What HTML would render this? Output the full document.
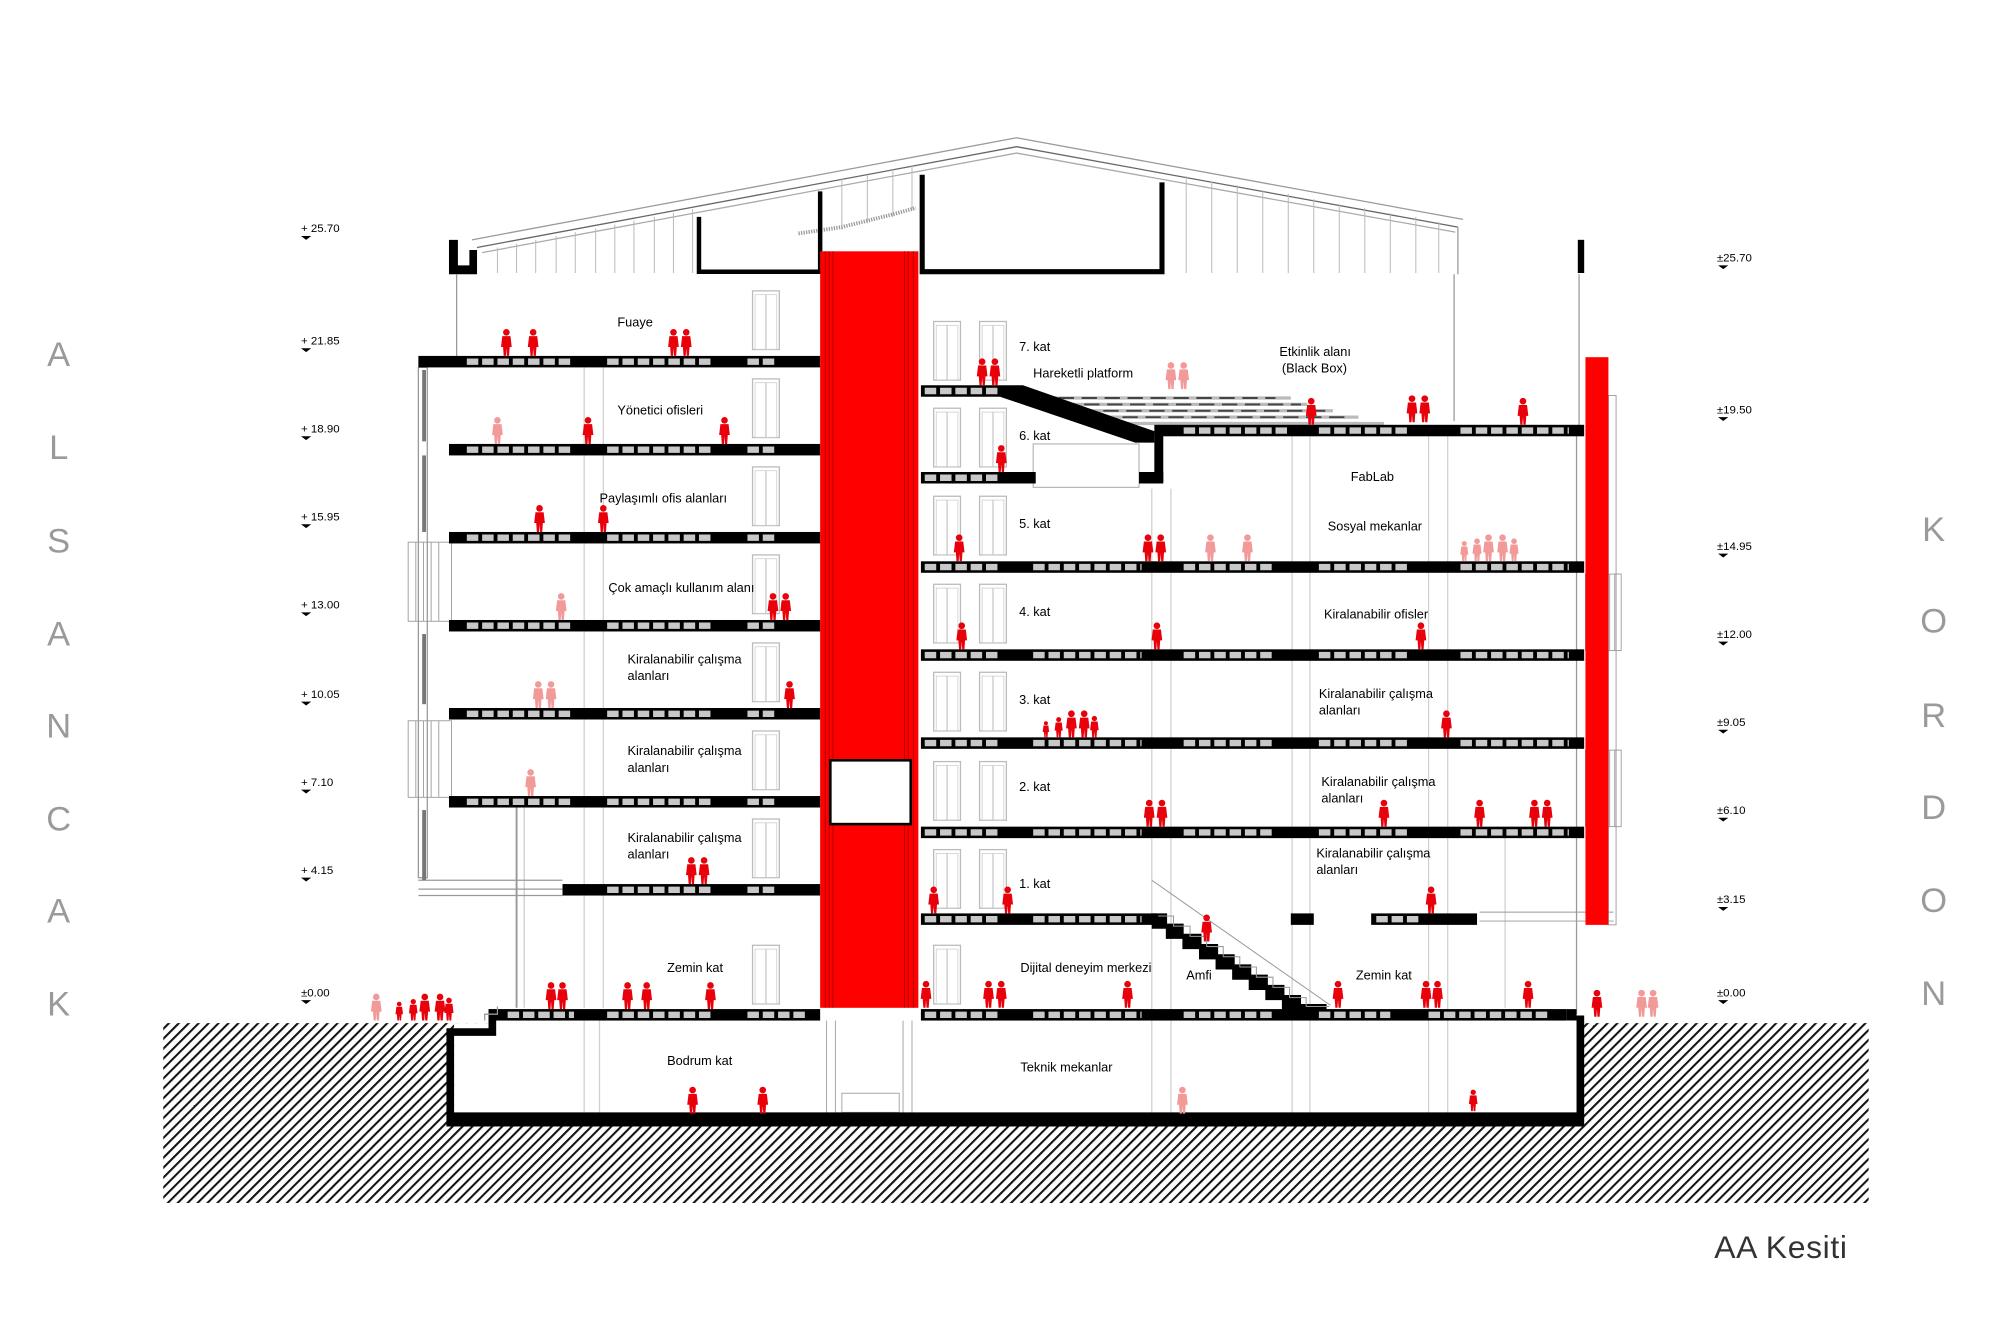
<!DOCTYPE html>
<html><head><meta charset="utf-8"><style>
html,body{margin:0;padding:0;background:#fff;}
svg{display:block;}
text{font-family:"Liberation Sans",sans-serif;}
.l{font-size:10px;fill:#000;}
.e{font-size:9px;fill:#000;}
.big{font-size:27px;fill:#9a9a9a;text-anchor:middle;}
</style></head><body>
<svg width="2000" height="1328" viewBox="0 0 1568 1041" preserveAspectRatio="none" xmlns="http://www.w3.org/2000/svg">
<defs>
<pattern id="h" width="5.5" height="5.5" patternUnits="userSpaceOnUse" patternTransform="rotate(45)">
<rect width="5.5" height="5.5" fill="#fff"/><rect width="1.6" height="5.5" fill="#111"/>
</pattern>
<g id="p"><circle cx="0" cy="-18.5" r="2.6"/><path d="M-3.2,-15.5 L3.2,-15.5 L4.2,-7 L2.6,-7 L2.1,0 L0.4,0 L0,-6 L-0.4,0 L-2.1,0 L-2.6,-7 L-4.2,-7 Z"/></g>
<g id="d"><rect x="0" y="0" width="21" height="46" fill="none" stroke="#bbb" stroke-width="1"/><line x1="10.5" y1="3" x2="10.5" y2="46" stroke="#bbb" stroke-width="0.8"/><rect x="2" y="3" width="17" height="43" fill="none" stroke="#ccc" stroke-width="0.6"/></g>
</defs>

<rect x="128" y="802" width="1337" height="141" fill="url(#h)"/>
<rect x="356" y="802" width="881" height="72" fill="#fff"/>
<rect x="383" y="797" width="850" height="8" fill="#fff"/>

<g fill="none" stroke="#999" stroke-width="1">
<polyline points="370,188 797,108 1147,172"/>
<polyline points="374,194 797,115 1143,178" stroke="#666"/>
<polyline points="378,198 797,120 1141,182" stroke="#aaa"/>
<line x1="1143" y1="178" x2="1143" y2="215"/>
</g>
<g stroke="#bbb" stroke-width="0.8">
<line x1="390" y1="194" x2="390" y2="214"/><line x1="405" y1="191" x2="405" y2="214"/><line x1="420" y1="188" x2="420" y2="214"/><line x1="436" y1="185" x2="436" y2="214"/><line x1="451" y1="182" x2="451" y2="214"/><line x1="467" y1="179" x2="467" y2="214"/><line x1="482" y1="176" x2="482" y2="214"/><line x1="497" y1="173" x2="497" y2="214"/><line x1="513" y1="170" x2="513" y2="214"/><line x1="528" y1="167" x2="528" y2="214"/><line x1="543" y1="164" x2="543" y2="214"/>
<line x1="660" y1="140" x2="660" y2="180"/><line x1="680" y1="137" x2="680" y2="175"/><line x1="700" y1="133" x2="700" y2="170"/><line x1="715" y1="130" x2="715" y2="165"/>
<line x1="930" y1="138" x2="930" y2="214"/><line x1="950" y1="142" x2="950" y2="214"/><line x1="970" y1="145" x2="970" y2="214"/><line x1="990" y1="149" x2="990" y2="214"/><line x1="1010" y1="152" x2="1010" y2="214"/><line x1="1030" y1="156" x2="1030" y2="214"/><line x1="1050" y1="160" x2="1050" y2="214"/><line x1="1070" y1="163" x2="1070" y2="214"/><line x1="1090" y1="167" x2="1090" y2="214"/><line x1="1110" y1="170" x2="1110" y2="214"/><line x1="1128" y1="174" x2="1128" y2="214"/>
</g>
<polyline points="626,183 660,178 680,173 700,168 718,163" fill="none" stroke="#999" stroke-width="3" stroke-dasharray="1 1"/>
<path d="M352,188 H359 V208 H368 V196 H374 V215 H352 Z" fill="#000"/>
<path d="M548,170 V213 H643 V150" fill="none" stroke="#000" stroke-width="3.5"/>
<path d="M723,137 V213 H911 V143" fill="none" stroke="#000" stroke-width="4"/>
<rect x="1237" y="188" width="5" height="26" fill="#000"/>

<g stroke="#999" stroke-width="1">
<line x1="358" y1="215" x2="358" y2="280"/>
<line x1="1140" y1="215" x2="1140" y2="330"/>
<line x1="1238" y1="215" x2="1238" y2="335"/>
<line x1="1236" y1="340" x2="1236" y2="795"/>
<line x1="405" y1="630" x2="405" y2="790" stroke-width="1.5"/>
<line x1="411" y1="630" x2="411" y2="790" stroke="#ccc"/>
</g>
<g stroke="#d0d0d0" stroke-width="1">
<line x1="458" y1="283" x2="458" y2="790"/><line x1="473" y1="283" x2="473" y2="790"/>
<line x1="903" y1="383" x2="903" y2="880"/><line x1="918" y1="383" x2="918" y2="880"/>
<line x1="1013" y1="340" x2="1013" y2="880"/><line x1="1027" y1="340" x2="1027" y2="880"/>
<line x1="1120" y1="340" x2="1120" y2="880"/><line x1="1135" y1="340" x2="1135" y2="880"/>
<line x1="458" y1="800" x2="458" y2="872"/><line x1="470" y1="800" x2="470" y2="872"/>
<line x1="1180" y1="655" x2="1180" y2="790"/>
</g>
<g fill="none" stroke="#999" stroke-width="1">
<rect x="328" y="288" width="7" height="400"/>
<line x1="328" y1="690" x2="441" y2="690"/><line x1="328" y1="697" x2="441" y2="697"/>
<line x1="328" y1="702" x2="441" y2="702"/>
</g>
<rect x="331" y="290" width="3" height="56" fill="#777"/>
<rect x="331" y="357" width="3" height="60" fill="#777"/>
<rect x="331" y="497" width="3" height="55" fill="#777"/>
<rect x="331" y="635" width="3" height="55" fill="#777"/>
<g fill="none" stroke="#999" stroke-width="0.7">
<rect x="320" y="425" width="34" height="62"/><line x1="326" y1="425" x2="326" y2="487"/><line x1="332" y1="425" x2="332" y2="487"/><line x1="338" y1="425" x2="338" y2="487"/><line x1="344" y1="425" x2="344" y2="487"/>
<rect x="320" y="565" width="34" height="60"/><line x1="326" y1="565" x2="326" y2="625"/><line x1="332" y1="565" x2="332" y2="625"/><line x1="338" y1="565" x2="338" y2="625"/><line x1="344" y1="565" x2="344" y2="625"/>
<rect x="1243" y="450" width="28" height="60"/><line x1="1262" y1="450" x2="1262" y2="510"/><line x1="1266" y1="450" x2="1266" y2="510"/>
<rect x="1243" y="588" width="28" height="60"/><line x1="1262" y1="588" x2="1262" y2="648"/><line x1="1266" y1="588" x2="1266" y2="648"/>
<rect x="1261" y="310" width="6" height="415"/>
<line x1="1160" y1="715" x2="1265" y2="715"/><line x1="1160" y1="722" x2="1265" y2="722"/>
</g>

<use href="#d" x="590" y="228"/><use href="#d" x="590" y="297"/><use href="#d" x="590" y="366"/><use href="#d" x="590" y="435"/><use href="#d" x="590" y="504"/><use href="#d" x="590" y="573"/><use href="#d" x="590" y="642"/><use href="#d" x="590" y="741"/>
<use href="#d" x="732" y="252"/><use href="#d" x="768" y="252"/>
<use href="#d" x="732" y="320"/><use href="#d" x="768" y="320"/>
<use href="#d" x="732" y="389"/><use href="#d" x="768" y="389"/>
<use href="#d" x="732" y="458"/><use href="#d" x="768" y="458"/>
<use href="#d" x="732" y="527"/><use href="#d" x="768" y="527"/>
<use href="#d" x="732" y="597"/><use href="#d" x="768" y="597"/>
<use href="#d" x="732" y="666"/><use href="#d" x="768" y="666"/>
<use href="#d" x="732" y="741"/>

<rect x="810" y="348" width="83" height="34" fill="none" stroke="#aaa" stroke-width="0.8"/>
<g stroke="#bbb" stroke-width="2.5" fill="none">
<line x1="810" y1="312" x2="1012" y2="312"/><line x1="820" y1="317" x2="1025" y2="317"/><line x1="835" y1="322" x2="1045" y2="322"/><line x1="850" y1="327" x2="1065" y2="327"/><line x1="880" y1="332" x2="1085" y2="332"/>
</g>
<g stroke="#444" stroke-width="1.5" stroke-dasharray="12 6">
<line x1="830" y1="312" x2="1000" y2="312"/><line x1="850" y1="317" x2="1020" y2="317"/><line x1="865" y1="322" x2="1040" y2="322"/><line x1="880" y1="327" x2="1060" y2="327"/>
</g>

<rect x="643" y="197" width="77" height="593" fill="#f00"/>
<g stroke="#900" stroke-width="0.6"><line x1="647" y1="197" x2="647" y2="790"/><line x1="650" y1="197" x2="650" y2="790"/><line x1="653" y1="197" x2="653" y2="790"/><line x1="709" y1="197" x2="709" y2="790"/><line x1="712" y1="197" x2="712" y2="790"/><line x1="716" y1="197" x2="716" y2="790"/></g>
<rect x="651" y="596" width="63" height="50" fill="#fff" stroke="#000" stroke-width="2"/>
<g stroke="#aaa" stroke-width="0.8"><line x1="648" y1="800" x2="648" y2="875"/><line x1="655" y1="800" x2="655" y2="875"/><line x1="708" y1="800" x2="708" y2="875"/><line x1="715" y1="800" x2="715" y2="875"/><rect x="660" y="857" width="45" height="15" fill="none"/></g>
<rect x="1243" y="280" width="18" height="445" fill="#f00"/>

<g fill="#000">
<rect x="328" y="279" width="315" height="9"/>
<rect x="352" y="348" width="291" height="9"/>
<rect x="352" y="417" width="291" height="9"/>
<rect x="352" y="486" width="291" height="9"/>
<rect x="352" y="555" width="291" height="9"/>
<rect x="352" y="624" width="291" height="9"/>
<rect x="441" y="693" width="202" height="9"/>
<rect x="383" y="791" width="260" height="9"/>
<rect x="722" y="302" width="62" height="9"/>
<path d="M784,302 L802,302 L905,338 L905,347 L890,347 L784,311 Z"/>
<rect x="905" y="333" width="337" height="9"/>
<rect x="905" y="338" width="7" height="40"/>
<rect x="722" y="370" width="90" height="9"/>
<rect x="893" y="370" width="19" height="9"/>
<rect x="722" y="440" width="520" height="9"/>
<rect x="722" y="509" width="520" height="9"/>
<rect x="722" y="578" width="520" height="9"/>
<rect x="722" y="648" width="520" height="9"/>
<rect x="722" y="716" width="185" height="9"/>
<rect x="1012" y="716" width="18" height="9"/>
<rect x="1075" y="716" width="83" height="9"/>
<rect x="722" y="791" width="506" height="9"/>
<path d="M1228,791 L1236,791 L1236,796 L1242,796 L1242,883 L350,883 L350,806 L383,806 L383,800 L389,800 L389,812 L356,812 L356,872 L1236,872 L1236,800 L1228,800 Z"/>
</g>
<path d="M903,716 L915,716 L915,724 L928,724 L928,732 L942,732 L942,740 L955,740 L955,748 L968,748 L968,756 L981,756 L981,764 L994,764 L994,772 L1007,772 L1007,780 L1020,780 L1020,787 L1040,787 L1040,800 L1018,800 L1018,792 L1005,792 L1005,784 L992,784 L992,776 L979,776 L979,768 L966,768 L966,760 L953,760 L953,752 L940,752 L940,744 L927,744 L927,736 L914,736 L914,728 L903,728 Z" fill="#000"/>
<line x1="903" y1="690" x2="1043" y2="788" stroke="#999" stroke-width="0.8"/>
<polyline points="908,718 920,718 920,726 933,726 933,734 946,734 946,742 959,742 959,750 972,750 972,758 985,758 985,766 998,766 998,774 1011,774 1011,782 1024,782 1024,789 1042,789" fill="none" stroke="#999" stroke-width="0.8"/>
<polyline points="380,800 380,795 390,795 390,789" fill="none" stroke="#999"/>

<g stroke="#c8c8c8" stroke-width="5" stroke-dasharray="9 3">
<line x1="366" y1="283.5" x2="450" y2="283.5"/><line x1="476" y1="283.5" x2="560" y2="283.5"/><line x1="586" y1="283.5" x2="610" y2="283.5"/>
<line x1="366" y1="352.5" x2="450" y2="352.5"/><line x1="476" y1="352.5" x2="560" y2="352.5"/><line x1="586" y1="352.5" x2="610" y2="352.5"/>
<line x1="366" y1="421.5" x2="450" y2="421.5"/><line x1="476" y1="421.5" x2="560" y2="421.5"/><line x1="586" y1="421.5" x2="610" y2="421.5"/>
<line x1="366" y1="490.5" x2="450" y2="490.5"/><line x1="476" y1="490.5" x2="560" y2="490.5"/><line x1="586" y1="490.5" x2="610" y2="490.5"/>
<line x1="366" y1="559.5" x2="450" y2="559.5"/><line x1="476" y1="559.5" x2="560" y2="559.5"/><line x1="586" y1="559.5" x2="610" y2="559.5"/>
<line x1="366" y1="628.5" x2="450" y2="628.5"/><line x1="476" y1="628.5" x2="560" y2="628.5"/><line x1="586" y1="628.5" x2="610" y2="628.5"/>
<line x1="476" y1="697.5" x2="560" y2="697.5"/><line x1="586" y1="697.5" x2="610" y2="697.5"/>
<line x1="398" y1="795.5" x2="450" y2="795.5"/><line x1="476" y1="795.5" x2="560" y2="795.5"/><line x1="586" y1="795.5" x2="634" y2="795.5"/>
<line x1="725" y1="306.5" x2="784" y2="306.5"/>
<line x1="725" y1="374.5" x2="784" y2="374.5"/>
<line x1="928" y1="337.5" x2="1012" y2="337.5"/><line x1="1034" y1="337.5" x2="1105" y2="337.5"/><line x1="1145" y1="337.5" x2="1230" y2="337.5"/>
<line x1="725" y1="444.5" x2="784" y2="444.5"/><line x1="810" y1="444.5" x2="895" y2="444.5"/><line x1="928" y1="444.5" x2="1000" y2="444.5"/><line x1="1034" y1="444.5" x2="1105" y2="444.5"/><line x1="1145" y1="444.5" x2="1230" y2="444.5"/>
<line x1="725" y1="513.5" x2="784" y2="513.5"/><line x1="810" y1="513.5" x2="895" y2="513.5"/><line x1="928" y1="513.5" x2="1000" y2="513.5"/><line x1="1034" y1="513.5" x2="1105" y2="513.5"/><line x1="1145" y1="513.5" x2="1230" y2="513.5"/>
<line x1="725" y1="582.5" x2="784" y2="582.5"/><line x1="810" y1="582.5" x2="895" y2="582.5"/><line x1="928" y1="582.5" x2="1000" y2="582.5"/><line x1="1034" y1="582.5" x2="1105" y2="582.5"/><line x1="1145" y1="582.5" x2="1230" y2="582.5"/>
<line x1="725" y1="652.5" x2="784" y2="652.5"/><line x1="810" y1="652.5" x2="895" y2="652.5"/><line x1="928" y1="652.5" x2="1000" y2="652.5"/><line x1="1034" y1="652.5" x2="1105" y2="652.5"/><line x1="1145" y1="652.5" x2="1230" y2="652.5"/>
<line x1="725" y1="720.5" x2="784" y2="720.5"/><line x1="810" y1="720.5" x2="895" y2="720.5"/><line x1="1079" y1="720.5" x2="1115" y2="720.5"/>
<line x1="725" y1="795.5" x2="784" y2="795.5"/><line x1="810" y1="795.5" x2="895" y2="795.5"/><line x1="928" y1="795.5" x2="1000" y2="795.5"/><line x1="1034" y1="795.5" x2="1090" y2="795.5"/><line x1="1120" y1="795.5" x2="1215" y2="795.5"/>
</g>

<g fill="#e8000a">
<use href="#p" x="397" y="279"/><use href="#p" x="418" y="279"/><use href="#p" x="528" y="279"/><use href="#p" x="538" y="279"/>
<use href="#p" x="461" y="348"/><use href="#p" x="568" y="348"/>
<use href="#p" x="423" y="417"/><use href="#p" x="473" y="417"/>
<use href="#p" x="606" y="486"/><use href="#p" x="616" y="486"/>
<use href="#p" x="619" y="555"/>
<use href="#p" x="542" y="693"/><use href="#p" x="552" y="693"/>
<use href="#p" x="432" y="791"/><use href="#p" x="441" y="791"/><use href="#p" x="492" y="791"/><use href="#p" x="507" y="791"/><use href="#p" x="557" y="791"/>
<use href="#p" x="313" y="800" transform="translate(313 800) scale(0.7) translate(-313 -800)"/><use href="#p" x="324" y="800" transform="translate(324 800) scale(0.8) translate(-324 -800)"/><use href="#p" x="333" y="800"/><use href="#p" x="345" y="800"/><use href="#p" x="352" y="800" transform="translate(352 800) scale(0.85) translate(-352 -800)"/>
<use href="#p" x="543" y="873"/><use href="#p" x="598" y="873"/><use href="#p" x="1155" y="871" transform="translate(1155 871) scale(0.8) translate(-1155 -871)"/>
<use href="#p" x="770" y="302"/><use href="#p" x="780" y="302"/><use href="#p" x="1028" y="333"/><use href="#p" x="1107" y="331"/><use href="#p" x="1117" y="331"/><use href="#p" x="1194" y="333"/>
<use href="#p" x="785" y="370"/>
<use href="#p" x="752" y="440"/><use href="#p" x="900" y="440"/><use href="#p" x="910" y="440"/>
<use href="#p" x="754" y="509"/><use href="#p" x="907" y="509"/><use href="#p" x="1114" y="509"/>
<use href="#p" x="820" y="578" transform="translate(820 578) scale(0.6) translate(-820 -578)"/><use href="#p" x="830" y="578" transform="translate(830 578) scale(0.75) translate(-830 -578)"/><use href="#p" x="840" y="578"/><use href="#p" x="850" y="578"/><use href="#p" x="858" y="578" transform="translate(858 578) scale(0.8) translate(-858 -578)"/><use href="#p" x="1134" y="578"/>
<use href="#p" x="901" y="648"/><use href="#p" x="911" y="648"/><use href="#p" x="1085" y="648"/><use href="#p" x="1160" y="648"/><use href="#p" x="1203" y="648"/><use href="#p" x="1213" y="648"/>
<use href="#p" x="732" y="716"/><use href="#p" x="790" y="716"/><use href="#p" x="946" y="738"/><use href="#p" x="1122" y="716"/>
<use href="#p" x="726" y="790"/><use href="#p" x="775" y="790"/><use href="#p" x="785" y="790"/><use href="#p" x="884" y="790"/><use href="#p" x="1049" y="790"/><use href="#p" x="1118" y="790"/><use href="#p" x="1127" y="790"/><use href="#p" x="1198" y="790"/><use href="#p" x="1252" y="797"/>
</g>
<g fill="#f29a9a">
<use href="#p" x="390" y="348"/><use href="#p" x="440" y="486"/><use href="#p" x="422" y="555"/><use href="#p" x="432" y="555"/><use href="#p" x="416" y="624"/>
<use href="#p" x="295" y="800"/><use href="#p" x="927" y="873"/>
<use href="#p" x="918" y="305"/><use href="#p" x="928" y="305"/>
<use href="#p" x="949" y="440"/><use href="#p" x="978" y="440"/>
<use href="#p" x="1148" y="440" transform="translate(1148 440) scale(0.75) translate(-1148 -440)"/><use href="#p" x="1158" y="440" transform="translate(1158 440) scale(0.85) translate(-1158 -440)"/><use href="#p" x="1167" y="440"/><use href="#p" x="1178" y="440"/><use href="#p" x="1187" y="440" transform="translate(1187 440) scale(0.85) translate(-1187 -440)"/>
<use href="#p" x="1287" y="797"/><use href="#p" x="1296" y="797"/>
</g>

<g class="l">
<text x="484" y="256">Fuaye</text>
<text x="484" y="325">Yönetici ofisleri</text>
<text x="470" y="394">Paylaşımlı ofis alanları</text>
<text x="477" y="464">Çok amaçlı kullanım alanı</text>
<text x="492" y="520">Kiralanabilir  çalışma</text><text x="492" y="533">alanları</text>
<text x="492" y="592">Kiralanabilir  çalışma</text><text x="492" y="605">alanları</text>
<text x="492" y="660">Kiralanabilir  çalışma</text><text x="492" y="673">alanları</text>
<text x="523" y="762">Zemin kat</text>
<text x="523" y="835">Bodrum kat</text>
<text x="799" y="275">7. kat</text>
<text x="810" y="296">Hareketli platform</text>
<text x="1003" y="279">Etkinlik alanı</text><text x="1005" y="292">(Black Box)</text>
<text x="799" y="345">6. kat</text>
<text x="1059" y="377">FabLab</text>
<text x="799" y="414">5. kat</text>
<text x="1041" y="416">Sosyal mekanlar</text>
<text x="799" y="483">4. kat</text>
<text x="1038" y="485">Kiralanabilir ofisler</text>
<text x="799" y="552">3. kat</text>
<text x="1034" y="547">Kiralanabilir  çalışma</text><text x="1034" y="560">alanları</text>
<text x="799" y="620">2. kat</text>
<text x="1036" y="616">Kiralanabilir  çalışma</text><text x="1036" y="629">alanları</text>
<text x="799" y="696">1. kat</text>
<text x="1032" y="672">Kiralanabilir  çalışma</text><text x="1032" y="685">alanları</text>
<text x="800" y="762">Dijital deneyim merkezi</text>
<text x="930" y="768">Amfi</text>
<text x="1063" y="768">Zemin kat</text>
<text x="800" y="840">Teknik mekanlar</text>
</g>

<g class="e">
<text x="236" y="182">+ 25.70</text><text x="236" y="270">+ 21.85</text><text x="236" y="339">+ 18.90</text><text x="236" y="408">+ 15.95</text><text x="236" y="477">+ 13.00</text><text x="236" y="547">+ 10.05</text><text x="236" y="616">+ 7.10</text><text x="236" y="685">+ 4.15</text><text x="236" y="781">±0.00</text>
<text x="1346" y="205">±25.70</text><text x="1346" y="324">±19.50</text><text x="1346" y="431">±14.95</text><text x="1346" y="500">±12.00</text><text x="1346" y="569">±9.05</text><text x="1346" y="638">±6.10</text><text x="1346" y="708">±3.15</text><text x="1346" y="781">±0.00</text>
</g>
<g fill="#000">
<path d="M236,185 h8 l-4,3 z"/><path d="M236,273 h8 l-4,3 z"/><path d="M236,342 h8 l-4,3 z"/><path d="M236,411 h8 l-4,3 z"/><path d="M236,480 h8 l-4,3 z"/><path d="M236,550 h8 l-4,3 z"/><path d="M236,619 h8 l-4,3 z"/><path d="M236,688 h8 l-4,3 z"/><path d="M236,784 h8 l-4,3 z"/>
<path d="M1347,208 h8 l-4,3 z"/><path d="M1347,327 h8 l-4,3 z"/><path d="M1347,434 h8 l-4,3 z"/><path d="M1347,503 h8 l-4,3 z"/><path d="M1347,572 h8 l-4,3 z"/><path d="M1347,641 h8 l-4,3 z"/><path d="M1347,711 h8 l-4,3 z"/><path d="M1347,784 h8 l-4,3 z"/>
</g>

<g class="big">
<text x="46" y="287">A</text><text x="46" y="360">L</text><text x="46" y="433">S</text><text x="46" y="506">A</text><text x="46" y="578">N</text><text x="46" y="651">C</text><text x="46" y="723">A</text><text x="46" y="796">K</text>
<text x="1516" y="424">K</text><text x="1516" y="496">O</text><text x="1516" y="570">R</text><text x="1516" y="642">D</text><text x="1516" y="715">O</text><text x="1516" y="788">N</text>
</g>
<text x="1344" y="986" style="font-size:25px;fill:#333;letter-spacing:0.5px;">AA Kesiti</text>
</svg>
</body></html>
